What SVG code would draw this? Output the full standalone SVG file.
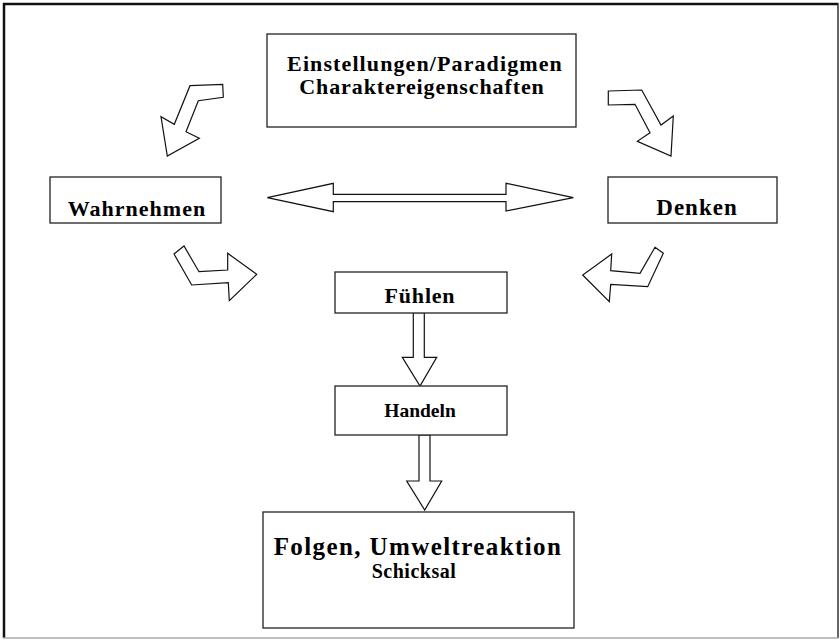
<svg xmlns="http://www.w3.org/2000/svg" width="840" height="640" viewBox="0 0 840 640">
<style>
.box{fill:#fff;stroke:#222;stroke-width:1.3}
.arr{fill:#fff;stroke:#111;stroke-width:1.2;stroke-linejoin:miter}
.t{font-family:"Liberation Serif","Times New Roman",serif;font-weight:bold;font-size:22px;fill:#000;text-anchor:middle}
</style>
<rect width="840" height="640" fill="#fff"/>
<g id="frame">
<line x1="3" y1="4" x2="838" y2="4" stroke="#111" stroke-width="2.5"/>
<line x1="4" y1="3" x2="4" y2="638" stroke="#111" stroke-width="2.5"/>
<line x1="838" y1="3" x2="838" y2="638" stroke="#333" stroke-width="1.5"/>
<line x1="3" y1="638" x2="838" y2="638" stroke="#aaa" stroke-width="1.5"/>
</g>
<g id="connectors">
<polygon class="arr" points="190,85.7 222.7,84.3 223.3,97.3 198.3,100.7 186,131.7 199.3,138.3 167.3,156 161,116.7 174.3,124.3"/>
<polygon class="arr" points="608.3,91 641.7,90 661,125 673.3,116 671,156 637.3,141.3 650,132.7 635,104.3 608.3,105"/>
<polygon class="arr" points="174,254 184,246 199,271.7 227.7,270 227.7,253.3 256.7,274.3 229.3,300.7 228.3,282.7 191.7,285"/>
<polygon class="arr" points="655,247.3 663.3,253.3 647.7,286.7 610.7,284.3 609.3,301.7 582.7,275 611.7,254 610.7,270.7 640,273.3"/>
<polygon class="arr" points="267.3,197.7 333.3,183.3 333.3,194.3 506,194.3 506,183.3 573.3,197.7 506,211 506,201.7 333.3,201.7 333.3,211.7"/>
<polygon class="arr" points="413.3,312.7 424.3,312.7 424.3,357.3 436.7,357.3 420,386 402.3,357.3 413.3,357.3"/>
<polygon class="arr" points="419,435 430,435 430,481 441.7,481 424.7,510 406.7,481 419,481"/>
</g>
<g id="n-einstellungen">
<rect class="box" x="267" y="34" width="309" height="93"/>
<text class="t" x="425" y="71" letter-spacing="1.1">Einstellungen/Paradigmen</text>
<text class="t" x="422" y="94" letter-spacing="0.9">Charaktereigenschaften</text>
</g>
<g id="n-wahrnehmen">
<rect class="box" x="50" y="177" width="171" height="46"/>
<text class="t" x="137" y="216" letter-spacing="1">Wahrnehmen</text>
</g>
<g id="n-denken">
<rect class="box" x="608" y="177" width="169" height="46"/>
<text class="t" x="697" y="215" style="font-size:23px" letter-spacing="1">Denken</text>
</g>
<g id="n-fuehlen">
<rect class="box" x="335" y="272" width="172" height="41"/>
<text class="t" x="420" y="303" letter-spacing="0.8">Fühlen</text>
</g>
<g id="n-handeln">
<rect class="box" x="335" y="386" width="172" height="49"/>
<text class="t" x="420" y="417" style="font-size:19.5px">Handeln</text>
</g>
<g id="n-folgen">
<rect class="box" x="263" y="512" width="311" height="116"/>
<text class="t" x="418" y="555" style="font-size:25px" letter-spacing="1.4">Folgen, Umweltreaktion</text>
<text class="t" x="414" y="578" style="font-size:20px" letter-spacing="0.5">Schicksal</text>
</g>
</svg>
